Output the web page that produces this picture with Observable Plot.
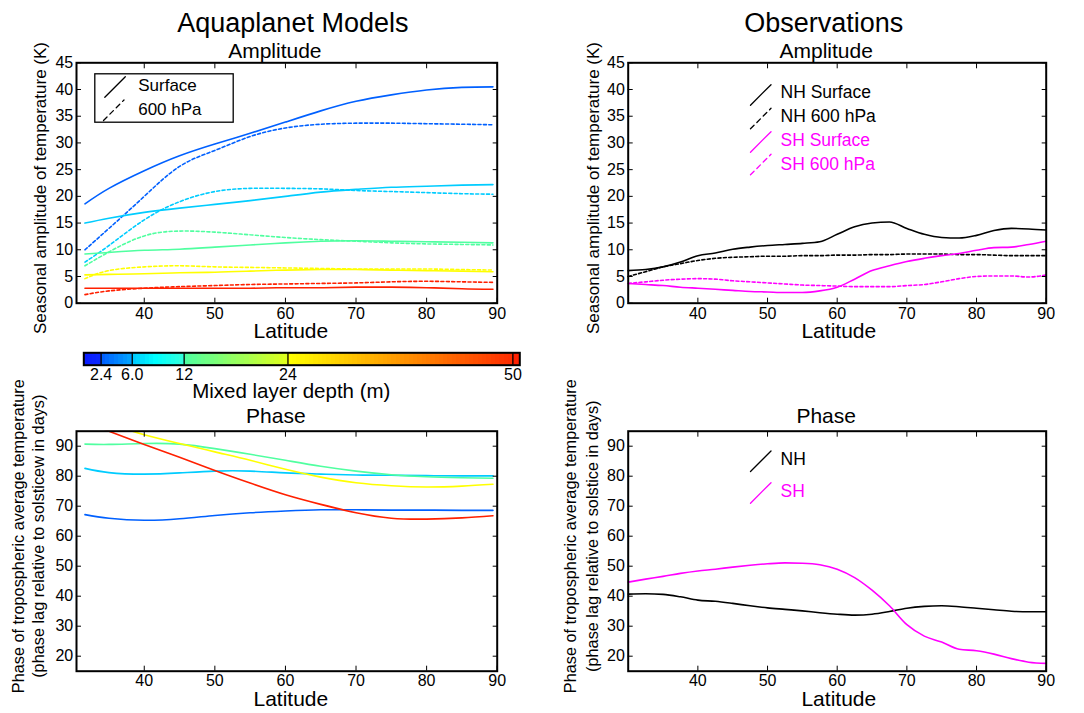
<!DOCTYPE html>
<html><head><meta charset="utf-8">
<script src="https://cdn.jsdelivr.net/npm/d3@7"></script>
<script src="https://cdn.jsdelivr.net/npm/@observablehq/plot@0.6"></script>
<style>
html,body{margin:0;padding:0;background:#fff;}
#wrap{position:relative;width:1084px;height:713px;overflow:hidden;background:#fff;}
#wrap svg{position:absolute;}
</style></head><body><div id="wrap"></div>
<script>
// ---------- DATA ----------
const mldValues = [2.4, 6.0, 12, 24, 50];
const mldLabels = ["2.4", "6.0", "12", "24", "50"];
const latTicks = [40, 50, 60, 70, 80, 90];
const ampTicks = [0, 5, 10, 15, 20, 25, 30, 35, 40, 45];
const phaseTicks = [20, 30, 40, 50, 60, 70, 80, 90];

// Aquaplanet models (latitude grid)
const modelLat = [31.6, 35, 40, 45, 50, 55, 60, 65, 70, 75, 80, 85, 89.4];
// Surface amplitude (K), one array per mixed layer depth
const ampSurf_mld2p4 = [18.6, 21.5, 24.8, 27.6, 29.8, 31.8, 33.9, 36.0, 37.8, 39.0, 39.9, 40.4, 40.5];
const ampSurf_mld6   = [15.0, 15.9, 17.0, 17.8, 18.5, 19.2, 20.0, 20.8, 21.3, 21.7, 21.9, 22.1, 22.2];
const ampSurf_mld12  = [9.2, 9.5, 9.9, 10.1, 10.5, 10.9, 11.3, 11.6, 11.7, 11.6, 11.5, 11.4, 11.3];
const ampSurf_mld24  = [5.3, 5.4, 5.5, 5.7, 5.8, 6.0, 6.2, 6.3, 6.3, 6.2, 6.1, 6.0, 5.9];
const ampSurf_mld50  = [2.8, 2.8, 2.8, 2.8, 2.8, 2.8, 2.9, 2.9, 3.0, 3.0, 2.9, 2.7, 2.6];
// 600 hPa amplitude (K)
const amp600_mld2p4 = [10.0, 14.0, 20.0, 25.6, 28.6, 31.2, 32.8, 33.5, 33.7, 33.7, 33.6, 33.5, 33.4];
const amp600_mld6   = [7.7, 10.8, 15.6, 19.0, 20.9, 21.5, 21.5, 21.4, 21.1, 20.9, 20.7, 20.5, 20.4];
const amp600_mld12  = [7.0, 9.6, 12.6, 13.5, 13.3, 12.8, 12.3, 11.9, 11.6, 11.3, 11.1, 11.0, 10.9];
const amp600_mld24  = [4.6, 6.1, 6.8, 7.0, 6.8, 6.7, 6.6, 6.5, 6.4, 6.4, 6.4, 6.3, 6.2];
const amp600_mld50  = [1.6, 2.3, 2.8, 3.1, 3.3, 3.5, 3.6, 3.7, 3.8, 4.0, 4.1, 4.0, 3.9];
// Phase (days)
const phase_mld2p4 = [67.2, 66.0, 65.3, 65.8, 66.9, 67.8, 68.4, 68.8, 68.8, 68.7, 68.7, 68.6, 68.6];
const phase_mld6   = [82.6, 81.2, 80.7, 81.1, 81.7, 81.7, 81.1, 80.7, 80.4, 80.3, 80.2, 80.1, 80.1];
const phase_mld12  = [90.7, 90.6, 90.9, 90.7, 89.2, 87.3, 85.3, 83.3, 81.7, 80.5, 79.8, 79.5, 79.3];
const phase_mld24  = [100.2, 97.6, 93.8, 90.9, 88.1, 85.3, 82.3, 79.7, 77.8, 76.8, 76.4, 76.7, 77.3];
const phase_mld50  = [98.0, 95.0, 90.6, 86.3, 81.9, 77.7, 73.8, 70.6, 67.8, 66.0, 65.7, 66.1, 66.8];

// Observations
const obsLat = [30, 32.5, 35, 37.5, 40, 42.5, 45, 47.5, 50, 52.5, 55, 57.5, 60, 62.5, 65, 67.5, 70, 72.5, 75, 77.5, 80, 82.5, 85, 87.5, 90];
const obsAmpNHSurf = [6.1, 6.3, 6.8, 7.7, 8.9, 9.4, 10.1, 10.5, 10.8, 11.0, 11.2, 11.5, 12.9, 14.3, 15.0, 15.2, 14.0, 12.9, 12.3, 12.2, 12.7, 13.6, 14.0, 13.9, 13.7];
const obsAmpNH600  = [5.0, 5.9, 6.8, 7.4, 8.0, 8.4, 8.6, 8.7, 8.8, 8.8, 8.9, 8.9, 9.0, 9.0, 9.1, 9.1, 9.2, 9.2, 9.2, 9.1, 9.1, 9.0, 8.9, 8.9, 8.9];
const obsAmpSHSurf = [3.7, 3.5, 3.3, 3.0, 2.8, 2.6, 2.4, 2.2, 2.1, 2.0, 2.0, 2.3, 3.0, 4.5, 6.1, 7.0, 7.8, 8.4, 8.9, 9.3, 9.9, 10.4, 10.5, 11.0, 11.6];
const obsAmpSH600  = [3.7, 4.0, 4.3, 4.5, 4.6, 4.5, 4.2, 4.0, 3.8, 3.6, 3.4, 3.3, 3.2, 3.1, 3.1, 3.1, 3.3, 3.5, 4.0, 4.6, 5.0, 5.1, 5.1, 4.9, 5.3];
const obsPhaseNH = [40.7, 40.8, 40.6, 39.8, 38.7, 38.3, 37.6, 36.8, 36.1, 35.6, 35.1, 34.5, 34.0, 33.7, 34.0, 34.9, 36.0, 36.6, 36.8, 36.5, 36.0, 35.5, 35.0, 34.8, 34.8];
const obsPhaseSH = [44.7, 45.7, 46.6, 47.6, 48.4, 49.0, 49.7, 50.3, 50.8, 51.1, 51.0, 50.5, 49.0, 46.2, 42.0, 36.8, 30.5, 26.7, 24.7, 22.3, 21.8, 20.7, 19.2, 18.0, 17.6];

const modelLegend = ["Surface", "600 hPa"];
const obsAmpLegend = ["NH Surface", "NH 600 hPa", "SH Surface", "SH 600 hPa"];
const obsPhaseLegend = ["NH", "SH"];

// ---------- TABLES ----------
const surfSets = [ampSurf_mld2p4, ampSurf_mld6, ampSurf_mld12, ampSurf_mld24, ampSurf_mld50];
const p600Sets = [amp600_mld2p4, amp600_mld6, amp600_mld12, amp600_mld24, amp600_mld50];
const phaseSets = [phase_mld2p4, phase_mld6, phase_mld12, phase_mld24, phase_mld50];
const toRows = (lats, vals, extra) => lats.map((lat, i) => ({lat, value: vals[i], ...extra}));
const modelSurfRows = surfSets.flatMap((v, k) => toRows(modelLat, v, {mld: mldValues[k]}));
const model600Rows = p600Sets.flatMap((v, k) => toRows(modelLat, v, {mld: mldValues[k]}));
const modelPhaseRows = phaseSets.flatMap((v, k) => toRows(modelLat, v, {mld: mldValues[k]}));

// ---------- STYLE ----------
const FONT = '"Liberation Sans", Arial, Helvetica, sans-serif';
const MAGENTA = "#ff00ff";
const cbarExtent = [0.4, 50.8];
const colorScale = {
  type: "linear",
  domain: [0.4, 2.39, 2.4, 5.99, 6, 8.5, 11.99, 12, 23.99, 24, 49.99, 50, 50.8],
  range: ["#0a1cff", "#0a2aff", "#0060ff", "#00aaff", "#00ccff", "#00ffff", "#38ffd8", "#50ffa0", "#e4ff18", "#ffff00", "#ff2a00", "#ff2000", "#ff2000"],
  interpolate: "rgb"
};
const svgStyle = {background: "transparent", overflow: "visible", fontFamily: FONT, color: "black"};
const stroke2 = {draw(ctx, l) { ctx.moveTo(0, 0); ctx.lineTo(0, -l); }};

function boxAxes(xTicks, yTicks, xPad) {
  return [
    Plot.axisX({ticks: xTicks, tickSize: -5, tickPadding: xPad, fontSize: 16, label: null, tickFormat: d => String(d)}),
    Plot.axisX({anchor: "top", ticks: xTicks, tickSize: -5, tickFormat: () => "", label: null}),
    Plot.axisY({ticks: yTicks, tickSize: -5, tickPadding: 8.3, fontSize: 16, label: null, tickFormat: d => String(d)}),
    Plot.axisY({anchor: "right", ticks: yTicks, tickSize: -5, tickFormat: () => "", label: null}),
    Plot.frame({stroke: "black", strokeWidth: 2})
  ];
}
const label = (s, o) => Plot.text([s], {text: d => d, ...o});
const yTitle = (s, o) => label(s, {frameAnchor: "left", rotate: -90, textAnchor: "middle", lineAnchor: "middle", ...o});
const legendStroke = (o) => Plot.vector([0], {frameAnchor: "top-left", anchor: "start", shape: stroke2, rotate: 45, length: 29, strokeWidth: 1.3, ...o});

const wrap = document.getElementById("wrap");
function place(svg, left, top) { svg.style.left = left + "px"; svg.style.top = top + "px"; wrap.appendChild(svg); }

// ---------- TOP LEFT: model amplitude ----------
const tl = Plot.plot({
  width: 540, height: 350, marginLeft: 76, marginRight: 43.3, marginTop: 62.3, marginBottom: 47.3,
  style: svgStyle,
  x: {domain: [30.4, 90]}, y: {domain: [0, 45]}, color: colorScale,
  marks: [
    Plot.frame({insetLeft: 18.3, insetTop: 11, insetRight: 264, insetBottom: 181, stroke: "black", strokeWidth: 1.3, fill: "white"}),
    legendStroke({dx: 28.3, dy: 34.4, stroke: "black"}),
    legendStroke({dx: 27, dy: 57.7, stroke: "black", strokeDasharray: "5,4"}),
    label(modelLegend[0], {frameAnchor: "top-left", dx: 61.7, dy: 28.4, textAnchor: "start", lineAnchor: "bottom", fontSize: 17}),
    label(modelLegend[1], {frameAnchor: "top-left", dx: 61.7, dy: 51.7, textAnchor: "start", lineAnchor: "bottom", fontSize: 17}),
    Plot.line(model600Rows, {x: "lat", y: "value", z: "mld", stroke: "mld", strokeWidth: 1.6, strokeDasharray: "3,2.4", curve: "natural"}),
    Plot.line(modelSurfRows, {x: "lat", y: "value", z: "mld", stroke: "mld", strokeWidth: 1.6, curve: "natural"}),
    ...boxAxes(latTicks, ampTicks, 9.6),
    label("Aquaplanet Models", {frameAnchor: "top", dx: 6, dy: -31.3, lineAnchor: "bottom", fontSize: 27}),
    label("Amplitude", {frameAnchor: "top", dx: -12, dy: -5, lineAnchor: "bottom", fontSize: 21}),
    yTitle("Seasonal amplitude of temperature (K)", {dx: -36, dy: 5, fontSize: 17}),
    label("Latitude", {frameAnchor: "bottom", dx: 4, dy: 34.5, lineAnchor: "bottom", fontSize: 21})
  ]
});
place(tl, 0, 0);

// ---------- COLORBAR ----------
const cbarEdges = [cbarExtent[0], ...mldValues, cbarExtent[1]];
const cbarSteps = [];
for (let k = 0; k < cbarEdges.length - 1; k++) {
  const a = cbarEdges[k], b = cbarEdges[k + 1];
  const n = Math.max(1, Math.round((b - a) / 0.5));
  for (let j = 0; j < n; j++) {
    const x1 = a + (b - a) * j / n, x2 = a + (b - a) * (j + 1) / n;
    cbarSteps.push({x1, x2, v: x1});
  }
}
const cb = Plot.plot({
  width: 540, height: 62, marginLeft: 83.3, marginRight: 20.7, marginTop: 12.3, marginBottom: 37.3,
  style: svgStyle,
  x: {type: "linear", domain: cbarExtent}, color: colorScale,
  marks: [
    Plot.rect(cbarSteps, {x1: "x1", x2: "x2", fill: "v", shapeRendering: "crispEdges"}),
    Plot.ruleX(mldValues, {stroke: "black", strokeWidth: 1.3}),
    Plot.frame({stroke: "black", strokeWidth: 2}),
    Plot.axisX({ticks: mldValues, tickSize: 0, tickPadding: 3, fontSize: 16, label: null, tickFormat: d => mldLabels[mldValues.indexOf(d)]}),
    label("Mixed layer depth (m)", {frameAnchor: "bottom", dx: -10.5, dy: 32.8, lineAnchor: "bottom", fontSize: 20.5})
  ]
});
place(cb, 0, 340);

// ---------- BOTTOM LEFT: model phase ----------
const bl = Plot.plot({
  width: 540, height: 311, marginLeft: 76, marginRight: 43.3, marginTop: 28.7, marginBottom: 42.3,
  style: svgStyle,
  x: {domain: [30.4, 90]}, y: {domain: [15, 95]}, color: colorScale,
  marks: [
    Plot.line(modelPhaseRows, {x: "lat", y: "value", z: "mld", stroke: "mld", strokeWidth: 1.6, curve: "natural", clip: true}),
    ...boxAxes(latTicks, phaseTicks, 8.4),
    label("Phase", {frameAnchor: "top", dx: -11, dy: -8.4, lineAnchor: "bottom", fontSize: 21}),
    yTitle("Phase of tropospheric average temperature\n(phase lag relative to solsticew in days)", {dx: -48.5, dy: -15, fontSize: 16.3, lineHeight: 1.23}),
    label("Latitude", {frameAnchor: "bottom", dx: 4, dy: 34.5, lineAnchor: "bottom", fontSize: 21})
  ]
});
place(bl, 0, 402);

// ---------- TOP RIGHT: observed amplitude ----------
const tr = Plot.plot({
  width: 544, height: 350, marginLeft: 87.7, marginRight: 38.3, marginTop: 62.3, marginBottom: 47.3,
  style: svgStyle,
  x: {domain: [30, 90]}, y: {domain: [0, 45]},
  marks: [
    legendStroke({dx: 122.3, dy: 42.4, stroke: "black"}),
    legendStroke({dx: 122.3, dy: 66, stroke: "black", strokeDasharray: "5,4"}),
    legendStroke({dx: 122.3, dy: 89.4, stroke: MAGENTA}),
    legendStroke({dx: 122.3, dy: 112, stroke: MAGENTA, strokeDasharray: "5,4"}),
    label(obsAmpLegend[0], {frameAnchor: "top-left", dx: 152.3, dy: 35, textAnchor: "start", lineAnchor: "bottom", fontSize: 17.5, fill: "black"}),
    label(obsAmpLegend[1], {frameAnchor: "top-left", dx: 152.3, dy: 58.7, textAnchor: "start", lineAnchor: "bottom", fontSize: 17.5, fill: "black"}),
    label(obsAmpLegend[2], {frameAnchor: "top-left", dx: 152.3, dy: 82.7, textAnchor: "start", lineAnchor: "bottom", fontSize: 17.5, fill: MAGENTA}),
    label(obsAmpLegend[3], {frameAnchor: "top-left", dx: 152.3, dy: 106.7, textAnchor: "start", lineAnchor: "bottom", fontSize: 17.5, fill: MAGENTA}),
    Plot.line(toRows(obsLat, obsAmpNH600), {x: "lat", y: "value", stroke: "black", strokeWidth: 1.6, strokeDasharray: "3,2.4", curve: "monotone-x"}),
    Plot.line(toRows(obsLat, obsAmpSH600), {x: "lat", y: "value", stroke: MAGENTA, strokeWidth: 1.6, strokeDasharray: "3,2.4", curve: "monotone-x"}),
    Plot.line(toRows(obsLat, obsAmpNHSurf), {x: "lat", y: "value", stroke: "black", strokeWidth: 1.6, curve: "monotone-x"}),
    Plot.line(toRows(obsLat, obsAmpSHSurf), {x: "lat", y: "value", stroke: MAGENTA, strokeWidth: 1.6, curve: "monotone-x"}),
    ...boxAxes(latTicks, ampTicks, 9.6),
    label("Observations", {frameAnchor: "top", dx: -13.4, dy: -31.3, lineAnchor: "bottom", fontSize: 27}),
    label("Amplitude", {frameAnchor: "top", dx: -11, dy: -5, lineAnchor: "bottom", fontSize: 21}),
    yTitle("Seasonal amplitude of temperature (K)", {dx: -34.7, dy: 5, fontSize: 17}),
    label("Latitude", {frameAnchor: "bottom", dx: 1.6, dy: 34.5, lineAnchor: "bottom", fontSize: 21})
  ]
});
place(tr, 540, 0);

// ---------- BOTTOM RIGHT: observed phase ----------
const br = Plot.plot({
  width: 544, height: 311, marginLeft: 87.7, marginRight: 38.3, marginTop: 28.7, marginBottom: 42.3,
  style: svgStyle,
  x: {domain: [30, 90]}, y: {domain: [15, 95]},
  marks: [
    legendStroke({dx: 122.3, dy: 40.3, stroke: "black"}),
    legendStroke({dx: 122.3, dy: 72, stroke: MAGENTA}),
    label(obsPhaseLegend[0], {frameAnchor: "top-left", dx: 152.3, dy: 33.3, textAnchor: "start", lineAnchor: "bottom", fontSize: 17.5, fill: "black"}),
    label(obsPhaseLegend[1], {frameAnchor: "top-left", dx: 152.3, dy: 65.3, textAnchor: "start", lineAnchor: "bottom", fontSize: 17.5, fill: MAGENTA}),
    Plot.line(toRows(obsLat, obsPhaseNH), {x: "lat", y: "value", stroke: "black", strokeWidth: 1.6, curve: "monotone-x"}),
    Plot.line(toRows(obsLat, obsPhaseSH), {x: "lat", y: "value", stroke: MAGENTA, strokeWidth: 1.6, curve: "monotone-x"}),
    ...boxAxes(latTicks, phaseTicks, 8.4),
    label("Phase", {frameAnchor: "top", dx: -11, dy: -8.4, lineAnchor: "bottom", fontSize: 21}),
    yTitle("Phase of tropospheric average temperature\n(phase lag relative to solstice in days)", {dx: -48.2, dy: -15, fontSize: 16.3, lineHeight: 1.38}),
    label("Latitude", {frameAnchor: "bottom", dx: 1.6, dy: 34.5, lineAnchor: "bottom", fontSize: 21})
  ]
});
place(br, 540, 402);
</script></body></html>
